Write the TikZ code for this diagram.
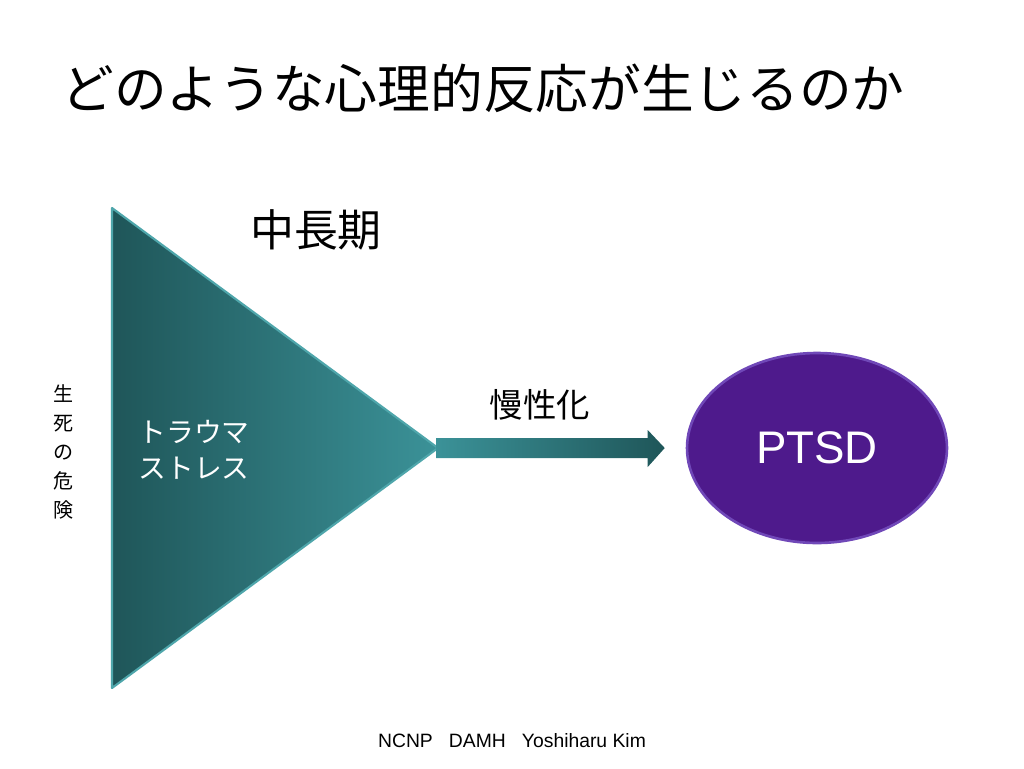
\documentclass[tikz,border=0pt]{standalone}
\usepackage{fontspec}
\setmainfont{Liberation Sans}
\newfontfamily\jp{Noto Sans CJK JP}
\usetikzlibrary{positioning, shapes.geometric, calc}

\definecolor{tealdark}{HTML}{1F5659}
\definecolor{teallight}{HTML}{3B9298}
\definecolor{tealrim}{HTML}{4FA6AB}
\definecolor{ptsdfill}{HTML}{4E1A8C}
\definecolor{ptsdrim}{HTML}{7048B8}

\begin{document}
\begin{tikzpicture}[x=0.02cm, y=-0.02cm,
    jptext/.style={font=\jp, text=black, inner sep=0pt},
    whitetext/.style={font=\jp, text=white, inner sep=0pt}]
                    \useasboundingbox[fill=white] (0,0) rectangle (1024,768);
                    \node[jptext, anchor=west, font=\jp\fontsize{30pt}{34pt}\selectfont] (title) at (61,88) {どのような心理的反応が生じるのか};
                    % triangle
                    \coordinate (top) at (112,208);
                    \coordinate (bottom) at (112,688);
                    \coordinate (apex) at (438,448);
                    \shade[left color=tealdark, right color=teallight, draw=tealrim, line width=1.2pt, line join=round] (top) -- (apex) -- (bottom) -- cycle;
                    \node[whitetext, align=left, font=\jp\fontsize{15.8pt}{20.5pt}\selectfont] (trauma) at (194,450) {トラウマ\\ストレス};
                    \node[jptext, align=center, font=\jp\fontsize{11.4pt}{16.5pt}\selectfont] (risk) at (64,452) {生\\死\\の\\危\\険};
                    \node[jptext, font=\jp\fontsize{25pt}{28pt}\selectfont] (term) at (316,230) {中長期};
                    % arrow
                    \node[ellipse, fill=ptsdfill, draw=ptsdrim, line width=1.5pt, minimum width=5.2cm, minimum height=3.8cm, inner sep=0pt, text=white, font=\fontsize{26pt}{30pt}\selectfont] (ptsd) at (817,448) {PTSD};
                    \coordinate (tip) at ($(ptsd.west)+(-21,0)$);
                    \shade[left color=teallight, right color=tealdark] ($(apex)+(-2,-10)$) -- ($(tip)+(-17,-10)$) -- ($(tip)+(-17,-18)$) -- (tip) -- ($(tip)+(-17,19)$) -- ($(tip)+(-17,10)$) -- ($(apex)+(-2,10)$) -- cycle;
                    \node[jptext, font=\jp\fontsize{19pt}{22pt}\selectfont] (chronic) at (540,405) {慢性化};
                    \node[inner sep=0pt, font=\fontsize{11pt}{13pt}\selectfont] (footer) at (512,741) {NCNP\ \ \ DAMH\ \ \ Yoshiharu Kim};
                \end{tikzpicture}
\end{document}
